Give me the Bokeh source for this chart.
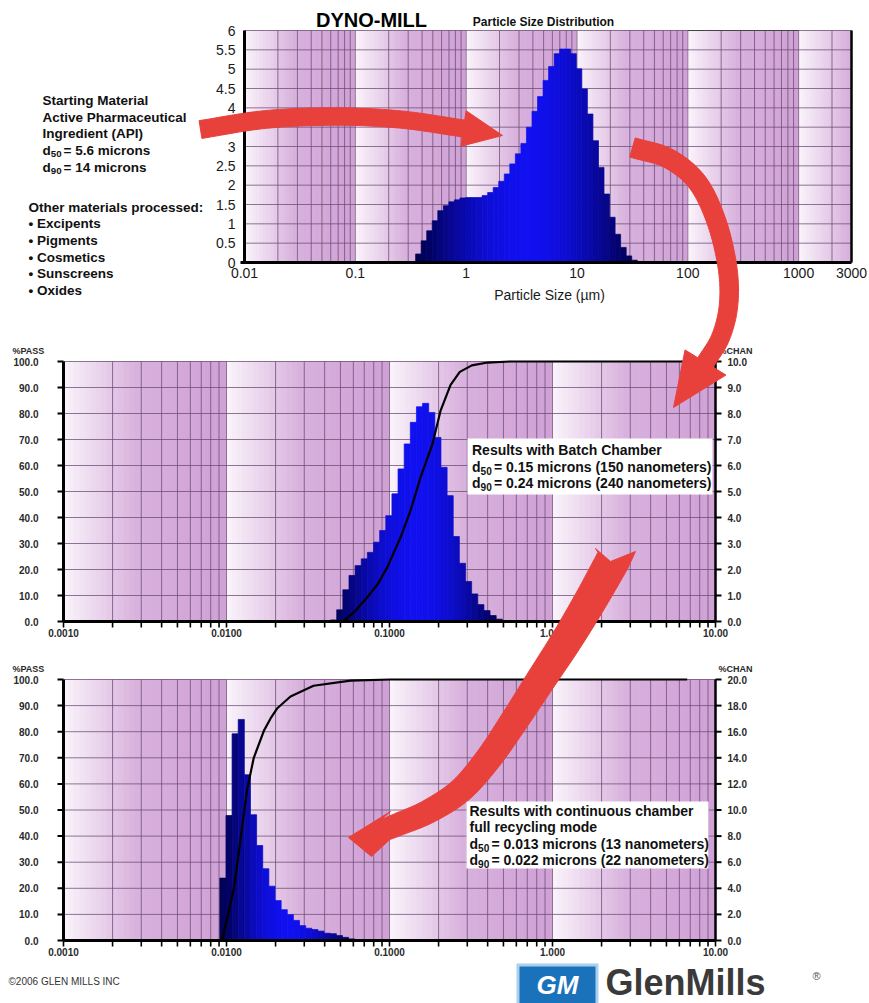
import numpy as np
from bokeh.plotting import figure
from bokeh.plotting.glyph_api import GlyphAPI
from bokeh.models import Range1d, LogScale, LinearScale, CoordinateMapping
from bokeh.core.properties import value
from bokeh.embed import file_html
from bokeh.resources import INLINE

# ======================= DATA =======================
# Top chart: starting material (API), frequency per size channel
top_bin_start = 0.35            # µm, lower edge of first channel
top_channels_per_decade = 20
top_freq = [0.22, 0.56, 0.82, 1.08, 1.34, 1.47, 1.57, 1.62, 1.67, 1.68,
            1.68, 1.68, 1.73, 1.81, 1.94, 2.10, 2.29, 2.55, 2.81, 3.08,
            3.50, 3.91, 4.29, 4.71, 5.07, 5.40, 5.52, 5.52, 5.40, 5.01,
            4.49, 3.84, 3.15, 2.46, 1.77, 1.17, 0.73, 0.39, 0.17, 0.06]
top_x_ticks = [0.01, 0.1, 1, 10, 100, 1000, 3000]
top_x_labels = ["0.01", "0.1", "1", "10", "100", "1000", "3000"]
top_y_ticks = [0, 0.5, 1, 1.5, 2, 2.5, 3, 3.5, 4, 4.5, 5, 5.5, 6]
top_y_labels = ["0", "0.5", "1", "1.5", "2", "2.5", "3", "3.5", "4", "4.5", "5", "5.5", "6"]

# Lower charts: channel ratio 2^(1/8)
lower_channel_ratio = 2 ** (1 / 8)

batch_bin_start = 0.0435
batch_chan = [0.06, 0.45, 1.22, 1.77, 2.15, 2.41, 2.66, 3.05, 3.50, 4.07,
              4.91, 5.87, 6.83, 7.66, 8.26, 8.39, 8.04, 7.08, 5.93, 4.84,
              3.27, 2.24, 1.54, 1.06, 0.65, 0.42, 0.23, 0.09]
batch_pass_size = [0.052, 0.062, 0.073, 0.085, 0.097, 0.117, 0.1345, 0.155,
                   0.183, 0.2055, 0.237, 0.27, 0.32, 0.40, 0.55, 6.7]
batch_pass = [0, 4.2, 9.3, 14.5, 20.9, 32.4, 42.6, 55.4,
              68.0, 81.0, 91.0, 96.0, 98.5, 99.6, 100, 100]

cont_bin_start = 0.0091
cont_chan = [4.78, 9.58, 15.84, 16.94, 12.70, 9.64, 7.28, 5.50, 4.16, 3.06,
             2.36, 1.98, 1.54, 1.14, 0.94, 0.84, 0.72, 0.56, 0.52, 0.38, 0.24, 0.12]
cont_pass_size = [0.0094, 0.0111, 0.0122, 0.0134, 0.0147, 0.0170, 0.0186,
                  0.0205, 0.0247, 0.0342, 0.0577, 0.101, 6.7]
cont_pass = [0, 19.8, 39.0, 58.0, 70.0, 80.5, 85.0, 89.0, 93.5, 97.6, 99.6, 100, 100]

psd_x_ticks = [0.001, 0.01, 0.1, 1, 10]
psd_x_labels = ["0.0010", "0.0100", "0.1000", "1.000", "10.00"]
pass_ticks = [0, 10, 20, 30, 40, 50, 60, 70, 80, 90, 100]
pass_labels = ["0.0", "10.0", "20.0", "30.0", "40.0", "50.0", "60.0", "70.0", "80.0", "90.0", "100.0"]
batch_chan_ticks = [0, 1, 2, 3, 4, 5, 6, 7, 8, 9, 10]
batch_chan_labels = ["0.0", "1.0", "2.0", "3.0", "4.0", "5.0", "6.0", "7.0", "8.0", "9.0", "10.0"]
cont_chan_ticks = [0, 2, 4, 6, 8, 10, 12, 14, 16, 18, 20]
cont_chan_labels = ["0.0", "2.0", "4.0", "6.0", "8.0", "10.0", "12.0", "14.0", "16.0", "18.0", "20.0"]

# ======================= LAYOUT / STYLE =======================
W, H = 869, 1003
FONT = "Liberation Sans"
TOP = dict(x0=244, x1=851, yb=262, yt=30)
MID = dict(x0=63, x1=715, yb=621, yt=361)
BOT = dict(x0=63, x1=715, yb=940, yt=679)
GRID = "#6a4b72"
RED = "#e8403b"

p = figure(width=W, height=H, x_range=Range1d(0, W), y_range=Range1d(H, 0),
           output_backend="svg", toolbar_location=None, min_border=0,
           x_axis_location=None, y_axis_location=None,
           background_fill_color="white", border_fill_color="white")
p.grid.visible = False
p.outline_line_color = None


def hexc(rgb):
    return "#%02x%02x%02x" % tuple(int(round(max(0, min(255, v)))) for v in rgb)


def mix(a, b, t):
    return [a[i] + (b[i] - a[i]) * t for i in range(3)]


BG_LIGHT = (251, 244, 251)
BG_MID = (216, 177, 221)
BG_DARK = (207, 161, 213)


def bg_color(t):
    if t < 0.45:
        return hexc(mix(BG_LIGHT, BG_MID, t / 0.45))
    return hexc(mix(BG_MID, BG_DARK, (t - 0.45) / 0.55))


NAVY = (0, 0, 78)
BLUE = (16, 16, 240)


def bar_color(u):
    k = np.sin(np.pi * u) ** 1.2
    return hexc(mix(NAVY, BLUE, k))


def make_sub(box, xr, yr):
    cm = CoordinateMapping(x_source=Range1d(*xr), y_source=Range1d(*yr),
                           x_scale=LogScale(), y_scale=LinearScale(),
                           x_target=Range1d(box["x0"], box["x1"]),
                           y_target=Range1d(box["yb"], box["yt"]))
    return GlyphAPI(p, cm)


def draw_background(g, xlo, xhi, ylo, yhi, n=30):
    L, R, C = [], [], []
    d = int(np.floor(np.log10(xlo) + 1e-9))
    lhi = np.log10(xhi)
    while d < lhi - 1e-9:
        for i in range(n):
            a = d + i / n
            if a >= lhi - 1e-9:
                break
            b = min(d + (i + 1) / n, lhi)
            C.append(bg_color((i + 0.5) / n))
            L.append(10 ** a)
            R.append(10 ** b)
        d += 1
    g.quad(left=L, right=R, bottom=ylo, top=yhi, fill_color=C, line_color=C, line_width=0.7)


def draw_grid(g, xlo, xhi, ylo, yhi, yticks):
    xs = []
    d = int(np.floor(np.log10(xlo) + 1e-9))
    while 10 ** d < xhi:
        for k in range(1, 10):
            v = k * 10 ** d
            if xlo * 1.001 < v < xhi * 0.999:
                xs.append(v)
        d += 1
    g.segment(x0=xs, y0=ylo, x1=xs, y1=yhi, line_color=GRID, line_width=1, line_alpha=0.75)
    ys = [y for y in yticks if y > ylo]
    g.segment(x0=xlo, y0=ys, x1=xhi, y1=ys, line_color=GRID, line_width=1, line_alpha=0.75)


def draw_hist(g, start, ratio, vals):
    n = len(vals)
    edges = start * ratio ** np.arange(n + 1)
    lc = np.log10(np.sqrt(edges[:-1] * edges[1:]))
    u = (lc - np.log10(edges[0])) / (np.log10(edges[-1]) - np.log10(edges[0]))
    cols = [bar_color(x) for x in u]
    g.quad(left=edges[:-1], right=edges[1:], bottom=0, top=vals,
           fill_color=cols, line_color=cols, line_width=0.7)


def label(g, x, y, s, size, bold=False, align="left", baseline="middle",
          color="#111111", xo=0, yo=0, italic=False):
    xs = x if isinstance(x, (list, tuple)) else [x]
    ys = y if isinstance(y, (list, tuple)) else [y]
    ss = s if isinstance(s, (list, tuple)) else [s]
    n = max(len(xs), len(ys), len(ss))
    xs = xs * n if len(xs) == 1 else xs
    ys = ys * n if len(ys) == 1 else ys
    style = "bold" if bold else "normal"
    if italic:
        style = "bold italic" if bold else "italic"
    g.text(x=xs, y=ys, text=ss, text_font=value(FONT), text_font_size=f"{size}px",
           text_font_style=style, text_align=align, text_baseline=baseline,
           text_color=color, x_offset=xo, y_offset=yo)


# ======================= TOP CHART =======================
gt = make_sub(TOP, (0.01, 3000), (0, 6))
draw_background(gt, 0.01, 3000, 0, 6)
draw_grid(gt, 0.01, 3000, 0, 6, top_y_ticks)
draw_hist(gt, top_bin_start, 10 ** (1 / top_channels_per_decade), top_freq)
gt.segment(x0=[0.01], y0=[0], x1=[0.01], y1=[6], line_color="black", line_width=3)
gt.segment(x0=[0.0092], y0=[0], x1=[3000], y1=[0], line_color="black", line_width=3)
gt.segment(x0=[3000], y0=[0], x1=[3000], y1=[6], line_color="black", line_width=2.5)
gt.segment(x0=[100], y0=[6], x1=[1000], y1=[6], line_color="#444444", line_width=1)
label(gt, 0.01, top_y_ticks, top_y_labels, 14, align="right", xo=-9, color="#1a1a1a")
label(gt, top_x_ticks, 0, top_x_labels, 14, align="center", yo=10, color="#1a1a1a")

# ======================= LOWER CHARTS =======================


def lower_chart(box, chan_max, chan_ticks, chan_labels, bin_start, chan_vals, cx, cy):
    gp = make_sub(box, (0.001, 10), (0, 100))
    gc = make_sub(box, (0.001, 10), (0, chan_max))
    draw_background(gp, 0.001, 10, 0, 100)
    draw_grid(gp, 0.001, 10, 0, 100, pass_ticks)
    draw_hist(gc, bin_start, lower_channel_ratio, chan_vals)
    gp.line(x=cx, y=cy, line_color="black", line_width=2.2)
    gp.segment(x0=[0.001], y0=[0], x1=[0.001], y1=[100], line_color="black", line_width=3)
    gp.segment(x0=[0.001], y0=[0], x1=[10], y1=[0], line_color="black", line_width=3)
    gp.segment(x0=[10], y0=[0], x1=[10], y1=[100], line_color="black", line_width=2.5)
    px_dec = (box["x1"] - box["x0"]) / 4
    px_pct = (box["yb"] - box["yt"]) / 100
    tl = 6
    minor = [k * 10 ** d for d in range(-3, 1) for k in range(1, 10)] + [10]
    gp.segment(x0=minor, y0=0, x1=minor, y1=-tl / px_pct, line_color="black", line_width=1.6)
    f = 10 ** (tl / px_dec)
    gp.segment(x0=0.001 / f, y0=pass_ticks, x1=0.001, y1=pass_ticks, line_color="black", line_width=2)
    gc.segment(x0=10, y0=chan_ticks, x1=10 * f, y1=chan_ticks, line_color="black", line_width=2)
    label(gp, 0.001, pass_ticks, pass_labels, 10, bold=True, align="right", xo=-25, color="#2a2a2a")
    label(gc, 10, chan_ticks, chan_labels, 10, bold=True, align="left", xo=12, color="#2a2a2a")
    label(gp, psd_x_ticks, 0, psd_x_labels, 10, bold=True, align="center", yo=11, color="#2a2a2a")
    label(gp, 0.001, 100, "%PASS", 9, bold=True, xo=-51, yo=-11, color="#2a2a2a")
    label(gc, 10, chan_max, "%CHAN", 9, bold=True, xo=3, yo=-11, color="#2a2a2a")


lower_chart(MID, 10, batch_chan_ticks, batch_chan_labels, batch_bin_start, batch_chan,
            batch_pass_size, batch_pass)
lower_chart(BOT, 20, cont_chan_ticks, cont_chan_labels, cont_bin_start, cont_chan,
            cont_pass_size, cont_pass)

# ======================= ARROWS =======================


def catmull(points, n=14):
    pts = np.array(points, float)
    P = np.vstack([2 * pts[0] - pts[1], pts, 2 * pts[-1] - pts[-2]])
    out = []
    for i in range(1, len(P) - 2):
        p0, p1, p2, p3 = P[i - 1], P[i], P[i + 1], P[i + 2]
        for t in np.linspace(0, 1, n, endpoint=False):
            t2, t3 = t * t, t * t * t
            out.append(0.5 * ((2 * p1) + (-p0 + p2) * t + (2 * p0 - 5 * p1 + 4 * p2 - p3) * t2
                              + (-p0 + 3 * p1 - 3 * p2 + p3) * t3))
    out.append(pts[-1])
    return np.array(out)


def arrow_patch(center, w0, w1, tip, head_w=None, corners=None, tail=None):
    c = catmull(center)
    d = np.gradient(c, axis=0)
    d /= np.linalg.norm(d, axis=1)[:, None]
    nrm = np.column_stack([-d[:, 1], d[:, 0]])
    seg = np.linalg.norm(np.diff(c, axis=0), axis=1)
    s = np.concatenate([[0], np.cumsum(seg)])
    s /= s[-1]
    hw = (w0 + (w1 - w0) * s) / 2
    A = c + nrm * hw[:, None]
    B = c - nrm * hw[:, None]
    if corners is None:
        ca = c[-1] + nrm[-1] * head_w / 2
        cb = c[-1] - nrm[-1] * head_w / 2
    else:
        ca, cb = np.array(corners[0], float), np.array(corners[1], float)
    if tail is not None:
        A[0] = tail[0]
        B[0] = tail[2]
    pts = list(A) + [ca, np.array(tip, float), cb] + list(B[::-1])
    if tail is not None:
        pts.append(np.array(tail[1], float))
    return [q[0] for q in pts], [q[1] for q in pts]


arrows = [
    dict(center=[(200, 129), (265, 119), (335, 116), (400, 119), (463, 128)],
         w0=18, w1=17, tip=(502, 135), head_w=36),
    dict(center=[(632, 147), (668, 158), (697, 182), (716, 221), (727, 267),
                 (728, 305), (720, 337), (705, 362)],
         w0=20, w1=18, tip=(673, 407), head_w=48),
    dict(center=[(614, 557), (590, 600), (566, 640), (540, 680), (514, 720),
                 (488, 758), (460, 790), (428, 811), (400, 823), (385, 829)],
         w0=34, w1=22, tip=(348, 837), corners=[(390, 811), (371, 856)],
         tail=[(595, 548), (610, 561), (635, 551)]),
]
for a in arrows:
    xs, ys = arrow_patch(a["center"], a["w0"], a["w1"], a["tip"], a.get("head_w"),
                         a.get("corners"), a.get("tail"))
    p.patch(x=xs, y=ys, fill_color=RED, line_color=RED, line_width=1)

# ======================= TEXT ANNOTATIONS =======================


def sub_line(x, y, sub, rest, size):
    label(p, x, y, "d", size, bold=True)
    ss = round(size * 0.72, 1)
    dx = 0.611 * size
    label(p, x + dx, y, sub, ss, bold=True, yo=size * 0.28)
    label(p, x + dx + 1.112 * ss + 0.15 * size, y, rest, size, bold=True)


label(p, 371, 19, "DYNO-MILL", 20, bold=True, align="center", baseline="alphabetic", color="black")
label(p, 543, 21, "Particle Size Distribution", 12, bold=True, align="center", color="#111111")
label(p, 549, 294, "Particle Size (µm)", 14, align="center", color="#1a1a1a")

lx = 42
label(p, lx, 100, "Starting Material", 13.5, bold=True)
label(p, lx, 116.7, "Active Pharmaceutical", 13.5, bold=True)
label(p, lx, 133, "Ingredient (API)", 13.5, bold=True)
sub_line(lx, 150, "50", "= 5.6 microns", 13.5)
sub_line(lx, 166.7, "90", "= 14 microns", 13.5)

ox = 28
label(p, ox, 206.7, "Other materials processed:", 13.5, bold=True)
for i, item in enumerate(["Excipents", "Pigments", "Cosmetics", "Sunscreens", "Oxides"]):
    label(p, ox, 223.3 + i * 16.7, "• " + item, 13.5, bold=True)

p.quad(left=[467], right=[712], top=[438], bottom=[494], fill_color="white", line_color=None)
label(p, 471.5, 449.5, "Results with Batch Chamber", 14, bold=True)
sub_line(471.5, 466.5, "50", "= 0.15 microns (150 nanometers)", 14)
sub_line(471.5, 482.7, "90", "= 0.24 microns (240 nanometers)", 14)

p.quad(left=[466], right=[708], top=[801], bottom=[868], fill_color="white", line_color=None)
label(p, 469, 810, "Results with continuous chamber", 14, bold=True)
label(p, 469, 826.7, "full recycling mode", 14, bold=True)
sub_line(469, 843.3, "50", "= 0.013 microns (13 nanometers)", 14)
sub_line(469, 859.3, "90", "= 0.022 microns (22 nanometers)", 14)

# footer
label(p, 8, 981, "©2006 GLEN MILLS INC", 10, color="#333333")
p.quad(left=[516], right=[598], top=[963], bottom=[1003], fill_color="#a9d0ee", line_color=None)
p.quad(left=[519], right=[595], top=[966], bottom=[1003], fill_color="#1a73ba", line_color=None)
label(p, 557, 984, "GM", 26, bold=True, italic=True, align="center", color="white")
label(p, 605, 982, "GlenMills", 36, bold=True, align="left", baseline="middle", color="#3a3a3a")
label(p, 812, 975, "®", 11, color="#555555")

open("out.html", "w").write(file_html(p, INLINE))
